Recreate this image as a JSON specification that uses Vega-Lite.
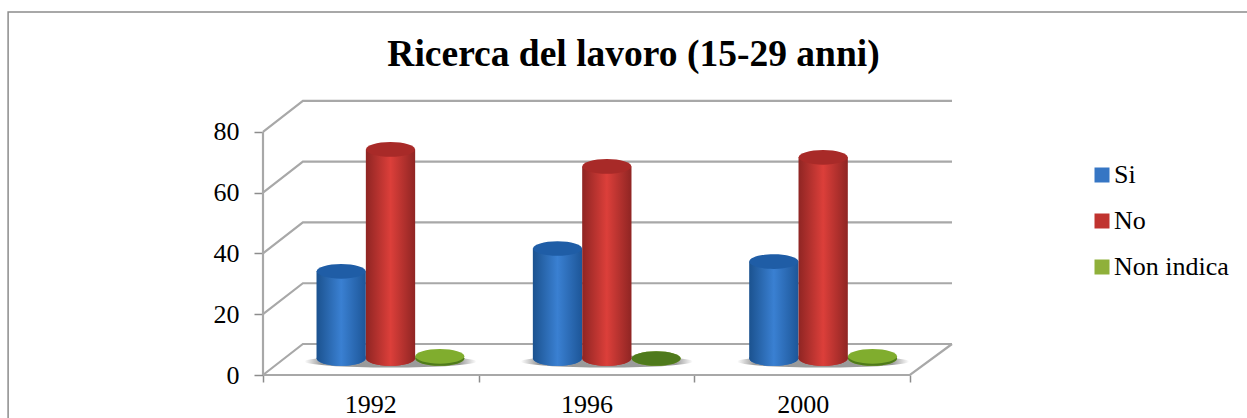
{
"$schema":"https://vega.github.io/schema/vega-lite/v6.json",
"width":689,"height":275,"autosize":"none",
"padding":{"left":263,"top":100,"right":295,"bottom":43},
"background":"white",
"config":{"view":{"stroke":null},"font":"Liberation Serif"},
"title":{"text":"Ricerca del lavoro (15-29 anni)","font":"Liberation Serif","fontSize":37.5,"fontWeight":"bold","color":"#000","anchor":"middle","frame":"group","dx":26,"offset":-65},
"datasets":{
"bars":[
{"year":"1992","series":"Si","value":28.7},{"year":"1992","series":"No","value":68.8},{"year":"1992","series":"Non indica","value":0.7},
{"year":"1996","series":"Si","value":36.2},{"year":"1996","series":"No","value":63.2},{"year":"1996","series":"Non indica","value":0.2},
{"year":"2000","series":"Si","value":31.9},{"year":"2000","series":"No","value":66.2},{"year":"2000","series":"Non indica","value":0.7}],
"walls":[
{"line":"g0","x":0,"y":0},{"line":"g0","x":0.185,"y":10.2},{"line":"g0","x":3.195,"y":10.2},
{"line":"g20","x":0,"y":20},{"line":"g20","x":0.185,"y":30.2},{"line":"g20","x":3.195,"y":30.2},
{"line":"g40","x":0,"y":40},{"line":"g40","x":0.185,"y":50.2},{"line":"g40","x":3.195,"y":50.2},
{"line":"g60","x":0,"y":60},{"line":"g60","x":0.185,"y":70.2},{"line":"g60","x":3.195,"y":70.2},
{"line":"g80","x":0,"y":80},{"line":"g80","x":0.185,"y":90.2},{"line":"g80","x":3.195,"y":90.2},
{"line":"floor","x":0,"y":0},{"line":"floor","x":3,"y":0},{"line":"floor","x":3.195,"y":10.2},
{"line":"yaxis","x":0,"y":0},{"line":"yaxis","x":0,"y":80}],
"frame":[{"o":1,"x":-1.182,"y":-14.2},{"o":2,"x":-1.182,"y":119.5},{"o":3,"x":4.6,"y":119.5}]
},
"layer":[
{"data":{"name":"frame"},"mark":{"type":"line","color":"#8c8c8c","strokeWidth":1.5,"clip":false},
 "encoding":{"x":{"field":"x","type":"quantitative","scale":{"domain":[0,3.195],"nice":false,"zero":false},
   "axis":{"orient":"bottom","values":[0,1,2,3],"labels":false,"domain":false,"grid":false,"title":null,"tickSize":7,"tickColor":"#8c8c8c","tickWidth":1.5}},
  "y":{"field":"y","type":"quantitative","scale":{"domain":[0,90.5],"nice":false,"zero":false},
   "axis":{"values":[0,20,40,60,80],"domain":false,"grid":false,"title":null,"tickSize":9,"tickColor":"#8c8c8c","tickWidth":1.5,"labelFont":"Liberation Serif","labelFontSize":26,"labelColor":"#000","labelPadding":15}},
  "order":{"field":"o"}}},
{"data":{"name":"walls"},"mark":{"type":"line","color":"#a8a8a8","strokeWidth":2.2},
 "encoding":{"x":{"field":"x","type":"quantitative","axis":null,"scale":{"domain":[0,3.195],"nice":false,"zero":false}},"y":{"field":"y","type":"quantitative","axis":null,"scale":{"domain":[0,90.5],"nice":false,"zero":false}},"detail":{"field":"line"}}},
{"data":{"name":"bars"},
 "encoding":{
  "x":{"field":"year","type":"nominal","scale":{"range":[19.5,668.5],"paddingInner":0,"paddingOuter":0},"axis":{"orient":"bottom","title":null,"ticks":false,"domain":false,"labelAngle":0,"labelFont":"Liberation Serif","labelFontSize":26,"labelColor":"#000","labelPadding":16,"labelOffset":-20}},
  "y":{"field":"value","type":"quantitative","scale":{"domain":[0,90.5],"range":[258.5,-16.5],"nice":false,"zero":false},"axis":null},
  "xOffset":{"field":"series","type":"nominal","sort":["Si","No","Non indica"],"scale":{"domain":["Si","No","Non indica"],"range":[34,182]}}
 },
 "layer":[
  {"transform":[{"filter":"datum.series==='No'"}],"mark":{"type":"point","filled":true,"size":29584,"opacity":1,"shape":"M -1 0 A 1 0.07 0 1 0 1 0 A 1 0.07 0 1 0 -1 0 Z",
    "fill":{"gradient":"linear","x1":0,"x2":1,"y1":0,"y2":0,"stops":[{"offset":0,"color":"#ffffff"},{"offset":0.1,"color":"#9a9a9a"},{"offset":0.9,"color":"#9a9a9a"},{"offset":1,"color":"#ffffff"}]}},
   "encoding":{"y":{"datum":-1,"type":"quantitative"}}},
  {"mark":{"type":"point","filled":true,"opacity":1,"size":2401,"shape":"M -1 0 A 1 0.3 0 1 0 1 0 A 1 0.3 0 1 0 -1 0 Z"},
   "encoding":{"y":{"datum":0,"type":"quantitative"},"color":{"field":"series","type":"nominal","scale":{"domain":["Si","No","Non indica"],"range":["#3676c4","#c0332f","#8fb03a"]},
     "legend":{"orient":"none","legendX":826,"legendY":62,"title":null,"padding":0,"symbolType":"square","symbolSize":225,"symbolStrokeWidth":0,"symbolOpacity":1,"labelFont":"Liberation Serif","labelFontSize":26,"labelColor":"#000","labelOffset":-1,"rowPadding":20}}}},
  {"transform":[{"filter":"datum.series==='Si'"}],"mark":{"type":"point","filled":true,"opacity":1,"size":2401,"shape":"M -1 0 A 1 0.3 0 1 0 1 0 A 1 0.3 0 1 0 -1 0 Z","fill":{"gradient":"linear","x1":0,"x2":1,"y1":0,"y2":0,"stops":[{"offset":0,"color":"#1b528f"},{"offset":0.5,"color":"#3a80d2"},{"offset":1,"color":"#1d5698"}]}},"encoding":{"y":{"datum":0,"type":"quantitative"}}},
  {"transform":[{"filter":"datum.series==='Si'"}],"mark":{"type":"bar","width":49.3,"fill":{"gradient":"linear","x1":0,"x2":1,"y1":0,"y2":0,"stops":[{"offset":0,"color":"#1b528f"},{"offset":0.5,"color":"#3a80d2"},{"offset":1,"color":"#1d5698"}]}},"encoding":{"y2":{"datum":0}}},
  {"transform":[{"filter":"datum.series==='Si'"}],"mark":{"type":"point","filled":true,"opacity":1,"size":2401,"color":"#1f5da6","shape":"M -1 0 A 1 0.3 0 1 0 1 0 A 1 0.3 0 1 0 -1 0 Z"}},
  {"transform":[{"filter":"datum.series==='No'"}],"mark":{"type":"point","filled":true,"opacity":1,"size":2401,"shape":"M -1 0 A 1 0.3 0 1 0 1 0 A 1 0.3 0 1 0 -1 0 Z","fill":{"gradient":"linear","x1":0,"x2":1,"y1":0,"y2":0,"stops":[{"offset":0,"color":"#8f2523"},{"offset":0.5,"color":"#dc3f3a"},{"offset":1,"color":"#8f2523"}]}},"encoding":{"y":{"datum":0,"type":"quantitative"}}},
  {"transform":[{"filter":"datum.series==='No'"}],"mark":{"type":"bar","width":49.3,"fill":{"gradient":"linear","x1":0,"x2":1,"y1":0,"y2":0,"stops":[{"offset":0,"color":"#8f2523"},{"offset":0.5,"color":"#dc3f3a"},{"offset":1,"color":"#8f2523"}]}},"encoding":{"y2":{"datum":0}}},
  {"transform":[{"filter":"datum.series==='No'"}],"mark":{"type":"point","filled":true,"opacity":1,"size":2401,"color":"#a82a28","shape":"M -1 0 A 1 0.3 0 1 0 1 0 A 1 0.3 0 1 0 -1 0 Z"}},
  {"transform":[{"filter":"datum.series==='Non indica'"}],"mark":{"type":"point","filled":true,"opacity":1,"size":2401,"color":"#4f7a1c","shape":"M -1 0 A 1 0.3 0 1 0 1 0 A 1 0.3 0 1 0 -1 0 Z"},"encoding":{"y":{"datum":0,"type":"quantitative"}}},
  {"transform":[{"filter":"datum.series==='Non indica' && datum.value>0.5"}],"mark":{"type":"point","filled":true,"opacity":1,"size":2401,"color":"#80ad2e","shape":"M -1 0 A 1 0.3 0 1 0 1 0 A 1 0.3 0 1 0 -1 0 Z"}}
 ],
 "resolve":{"scale":{"color":"independent"}}}
],
"resolve":{"scale":{"x":"independent","y":"independent"},"axis":{"x":"independent","y":"independent"}}
}
